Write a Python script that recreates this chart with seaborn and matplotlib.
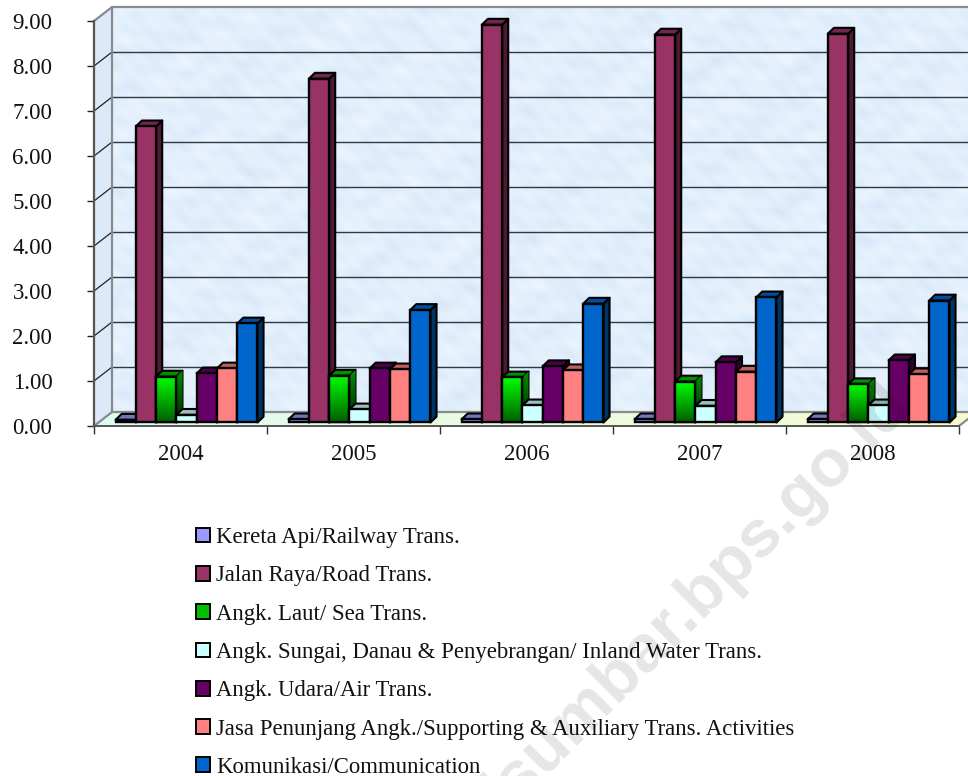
import numpy as np
import pandas as pd
import matplotlib
matplotlib.use("Agg")
import matplotlib.pyplot as plt
import seaborn as sns
from matplotlib.patches import Polygon
from matplotlib.transforms import Affine2D

years = ["2004", "2005", "2006", "2007", "2008"]
series_names = [
    "Kereta Api/Railway Trans.",
    "Jalan Raya/Road Trans.",
    "Angk. Laut/ Sea Trans.",
    "Angk. Sungai, Danau & Penyebrangan/ Inland Water Trans.",
    "Angk. Udara/Air Trans.",
    "Jasa Penunjang Angk./Supporting & Auxiliary Trans. Activities",
    "Komunikasi/Communication",
]
railway = [0.06, 0.07, 0.07, 0.07, 0.07]
road = [6.58, 7.64, 8.84, 8.62, 8.64]
sea = [1.02, 1.04, 1.00, 0.91, 0.85]
inland = [0.17, 0.29, 0.38, 0.37, 0.38]
air = [1.09, 1.20, 1.25, 1.34, 1.38]
support = [1.20, 1.18, 1.16, 1.13, 1.07]
comm = [2.20, 2.50, 2.64, 2.78, 2.71]
colors = ["#9999FF", "#993366", "#00C000", "#CCFFFF", "#660066", "#FF8080", "#0066CC"]
side_colors = ["#4C4C80", "#4D1A33", "#006000", "#668080", "#330033", "#804040", "#003366"]
top_colors = ["#7373BF", "#73264D", "#009000", "#99BFBF", "#4D004D", "#BF6060", "#004D99"]

# 3d look, in data units
WALL_X, WALL_Y = 0.104, 0.31
BAR_X, BAR_Y = 0.035, 0.078
DEPTH_X, DEPTH_Y = 0.035, 0.13

sns.set_theme(style="white")
plt.rcParams["font.family"] = ["Liberation Serif", "DejaVu Serif"]

df = pd.DataFrame({"year": years * 7,
                   "series": np.repeat(series_names, 5),
                   "value": railway + road + sea + inland + air + support + comm})

fig = plt.figure(figsize=(9.68, 7.76), dpi=100)
ax = fig.add_axes([94 / 968, 350 / 776, 865 / 968, 405 / 776])
sns.barplot(data=df, x="year", y="value", hue="series", palette=colors, width=0.82,
            gap=0, saturation=1, edgecolor="black", linewidth=1.7, ax=ax, zorder=10)
legend_handles, legend_labels = ax.get_legend_handles_labels()
ax.get_legend().remove()
ax.set_xlim(-0.5, 4.5)
ax.set_ylim(0, 9)

left, right = -0.5, 4.5
ax.patch.set_alpha(0)


def poly(points, **kw):
    p = Polygon(points, closed=True, clip_on=False, **kw)
    ax.add_patch(p)
    return p


def clipped_image(data, cmap_colors, extent, shape, zorder):
    cmap = matplotlib.colors.LinearSegmentedColormap.from_list("c", cmap_colors)
    im = ax.imshow(data, cmap=cmap, aspect="auto", extent=extent, zorder=zorder)
    im.set_clip_path(shape)
    im.set_clip_box(fig.bbox)
    return im


def gradient(shape, c_top, c_bottom, extent, zorder):
    return clipped_image(np.linspace(1, 0, 64).reshape(-1, 1), [c_bottom, c_top], extent, shape, zorder)


# back wall, faint mottled paper look
gx, gy = np.meshgrid(np.linspace(0, 90, 430), np.linspace(0, 45, 210))
mottle = (np.sin(gx * 1.3 + np.sin(gy * 0.9) * 2) + np.sin(gy * 1.7 + np.sin(gx * 0.7) * 2)
          + np.sin((gx + gy) * 0.53) + np.sin(gx * 2.9 - gy * 2.3) + np.sin(gx * 0.37 - gy * 3.1))
wall = poly([(left + WALL_X, WALL_Y), (right + WALL_X, WALL_Y),
             (right + WALL_X, 9 + WALL_Y), (left + WALL_X, 9 + WALL_Y)],
            facecolor="#DDEBFA", edgecolor="none", zorder=1)
clipped_image(mottle, ["#D8E7F8", "#E2EFFC", "#EDF5FE"],
              (left + WALL_X, right + WALL_X, WALL_Y, 9 + WALL_Y), wall, 1.1)
poly([(left, 0), (left + WALL_X, WALL_Y), (left + WALL_X, 9 + WALL_Y), (left, 9)],
     facecolor="#DCE9F8", edgecolor="none", zorder=1.2)
floor = poly([(left, 0), (right, 0), (right + WALL_X, WALL_Y), (left + WALL_X, WALL_Y)],
             facecolor="#F0FBE0", edgecolor="none", zorder=1.3)
clipped_image(np.linspace(0, 1, 64).reshape(1, -1), ["#DDFBF0", "#F8FBD2"],
              (left, right + WALL_X, 0, WALL_Y), floor, 1.4)

# gridlines run along the back wall and down the left wall
for v in range(1, 9):
    ax.plot([left + WALL_X, right + WALL_X], [v + WALL_Y] * 2, color="#2E3A40", lw=1.0,
            zorder=2, clip_on=False)
    ax.plot([left, left + WALL_X], [v, v + WALL_Y], color="#222222", lw=0.9,
            zorder=2, clip_on=False)
gray = "#8A8A8A"
ax.plot([left + WALL_X, left + WALL_X], [WALL_Y, 9 + WALL_Y], color=gray, lw=1.6, zorder=3, clip_on=False)
ax.plot([left + WALL_X, right + WALL_X], [9 + WALL_Y] * 2, color=gray, lw=1.6, zorder=3, clip_on=False)
ax.plot([left + WALL_X, right + WALL_X], [WALL_Y] * 2, color=gray, lw=1.6, zorder=3, clip_on=False)
ax.plot([left, left + WALL_X], [9, 9 + WALL_Y], color=gray, lw=1.6, zorder=3, clip_on=False)
ax.plot([left, left + WALL_X], [0, WALL_Y], color=gray, lw=1.6, zorder=3, clip_on=False)
ax.plot([right, right + WALL_X], [0, WALL_Y], color=gray, lw=1.6, zorder=3, clip_on=False)

# front faces come from seaborn, sides and tops are added to each bar
shift = Affine2D().translate(BAR_X, BAR_Y) + ax.transData
for i, bars in enumerate(ax.containers):
    z = 10 + i
    for bar in bars:
        x0, w, h = bar.get_x() + BAR_X, bar.get_width(), bar.get_height()
        x1, y0, y1 = x0 + w, BAR_Y, BAR_Y + h
        bar.set_transform(shift)
        bar.set_clip_on(False)
        bar.set_zorder(z + 0.5)
        side = poly([(x1, y0), (x1 + DEPTH_X, y0 + DEPTH_Y), (x1 + DEPTH_X, y1 + DEPTH_Y), (x1, y1)],
                    facecolor=side_colors[i], edgecolor="black", lw=1.5, joinstyle="round", zorder=z)
        poly([(x0, y1), (x1, y1), (x1 + DEPTH_X, y1 + DEPTH_Y), (x0 + DEPTH_X, y1 + DEPTH_Y)],
             facecolor=top_colors[i], edgecolor="black", lw=1.5, joinstyle="round", zorder=z)
        if i == 2:
            gradient(bar, "#00FF00", "#006000", (x0, x1, y0, y1), z + 0.6)
            gradient(side, "#009000", "#002800", (x1, x1 + DEPTH_X, y0, y1 + DEPTH_Y), z + 0.1)
            poly([(x0, y0), (x1, y0), (x1, y1), (x0, y1)], facecolor="none",
                 edgecolor="black", lw=1.7, zorder=z + 0.7)
ax.set_xlim(left, right)
ax.set_ylim(0, 9)

ax.set_xlabel("")
ax.set_ylabel("")
ax.set_yticks(range(10))
ax.set_yticklabels([f"{v:.2f}" for v in range(10)], fontsize=16.5, color="#111111")
ax.set_xticks(np.arange(-0.5, 5), minor=True)
ax.set_xticks(range(5))
ax.set_xticklabels(years, fontsize=16.5, color="#111111")
ax.tick_params(axis="x", which="major", length=0, pad=13)
ax.tick_params(axis="x", which="minor", length=6, width=1, color="#333333", bottom=True)
ax.tick_params(axis="y", length=5, width=1, color="#222222", left=True, pad=25)
sns.despine(ax=ax, top=True, right=True)
ax.spines["left"].set(color="#555555", linewidth=1.6, zorder=4)
ax.spines["bottom"].set(color="#555555", linewidth=1.4, zorder=4)

handles = [plt.Rectangle((0, 0), 1, 1, facecolor=c, edgecolor="black", linewidth=1.4) for c in colors]
fig.legend(handles, legend_labels, loc="upper left", bbox_to_anchor=(196 / 968, 1 - 527 / 776),
           frameon=False, fontsize=16.4, labelspacing=0.76, handlelength=0.62,
           handleheight=0.62, handletextpad=0.26, borderpad=0, borderaxespad=0,
           labelcolor="#111111")

fig.text(900 / 968, 1 - 394 / 776, "http://sumbar.bps.go.id", fontsize=48.5, fontweight="bold",
         family=["Liberation Sans", "DejaVu Sans"], color="black", alpha=0.1, rotation=45,
         rotation_mode="anchor", ha="right", va="center", zorder=50)

fig.savefig("out.png", dpi=100)
plt.close(fig)
